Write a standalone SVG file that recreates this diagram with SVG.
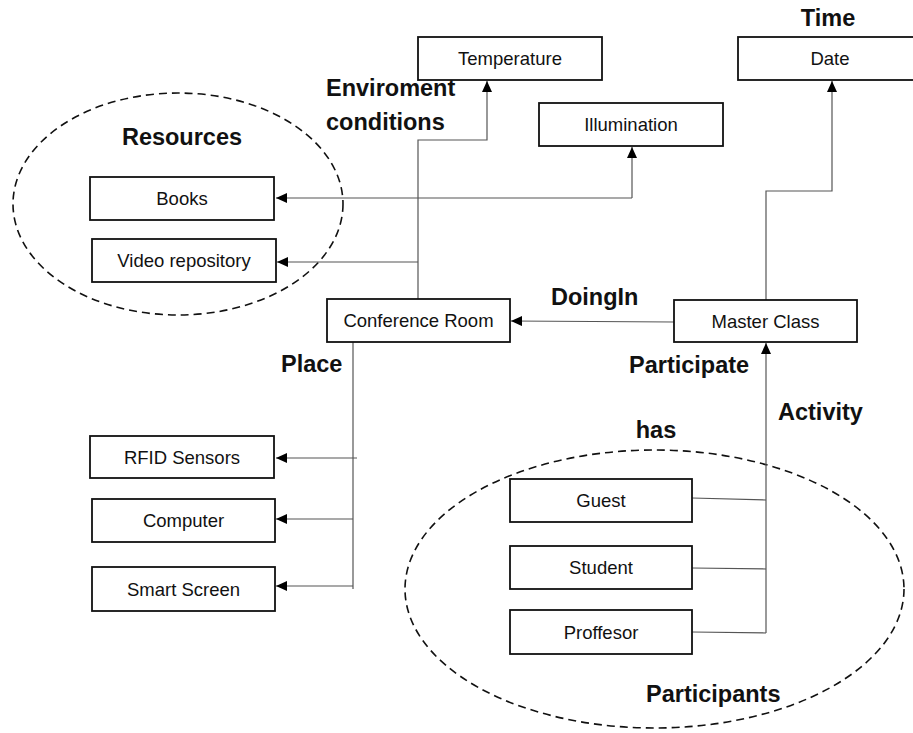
<svg xmlns="http://www.w3.org/2000/svg" width="913" height="733" viewBox="0 0 913 733">
<style>
.box{fill:#fff;stroke:#111;stroke-width:1.8}
.bt{font-family:"Liberation Sans",Arial,sans-serif;font-size:18.5px;fill:#111;text-anchor:middle}
.lb{font-family:"Liberation Sans",Arial,sans-serif;font-size:23.5px;font-weight:bold;fill:#111}
.cn{fill:none;stroke:#555;stroke-width:1.2}
.grp{fill:none;stroke:#111;stroke-width:1.6;stroke-dasharray:8 5}
</style>
<defs>
<marker id="ah" markerUnits="userSpaceOnUse" markerWidth="12" markerHeight="10" refX="11" refY="5" orient="auto">
<path d="M0,0 L11,5 L0,10 Z" fill="#000"/>
</marker>
</defs>
<rect width="913" height="733" fill="#fff"/>
<g id="groups">
<ellipse id="resources-group" class="grp" cx="178" cy="204" rx="165" ry="111"/>
<ellipse id="participants-group" class="grp" cx="654.5" cy="589" rx="249.5" ry="139"/>
</g>
<g id="connectors">
<path class="cn" d="M418,299 V140 H487 V81" marker-end="url(#ah)"/>
<path class="cn" d="M418,262 H277" marker-end="url(#ah)"/>
<path class="cn" d="M632,198 V147" marker-end="url(#ah)"/>
<path class="cn" d="M632,198 H276" marker-end="url(#ah)"/>
<path class="cn" d="M766,300 V191 H832 V81" marker-end="url(#ah)"/>
<path class="cn" d="M674,322 L511,321" marker-end="url(#ah)"/>
<path class="cn" d="M766,633 V343" marker-end="url(#ah)"/>
<path class="cn" d="M692,498 L766,500"/>
<path class="cn" d="M692,568 L766,569"/>
<path class="cn" d="M692,632 L766,633"/>
<path class="cn" d="M353,342 V589"/>
<path class="cn" d="M357,458 H276" marker-end="url(#ah)"/>
<path class="cn" d="M353,519 H276" marker-end="url(#ah)"/>
<path class="cn" d="M353,586 H276" marker-end="url(#ah)"/>
</g>
<g id="temperature"><rect class="box" x="418" y="37" width="184" height="43"/><text class="bt" x="510" y="65">Temperature</text></g>
<g id="date"><rect class="box" x="738" y="37" width="184" height="43"/><text class="bt" x="830" y="65">Date</text></g>
<g id="illumination"><rect class="box" x="539" y="103" width="184" height="43"/><text class="bt" x="631" y="131">Illumination</text></g>
<g id="books"><rect class="box" x="90" y="177" width="184" height="43"/><text class="bt" x="182" y="205">Books</text></g>
<g id="video-repository"><rect class="box" x="92" y="239" width="184" height="43"/><text class="bt" x="184" y="267">Video repository</text></g>
<g id="conference-room"><rect class="box" x="327" y="299" width="183" height="43"/><text class="bt" x="418.5" y="327">Conference Room</text></g>
<g id="master-class"><rect class="box" x="674" y="300" width="183" height="42"/><text class="bt" x="765.5" y="328">Master Class</text></g>
<g id="rfid-sensors"><rect class="box" x="90" y="436" width="184" height="42"/><text class="bt" x="182" y="464">RFID Sensors</text></g>
<g id="computer"><rect class="box" x="92" y="499" width="183" height="43"/><text class="bt" x="183.5" y="527">Computer</text></g>
<g id="smart-screen"><rect class="box" x="92" y="567" width="183" height="44"/><text class="bt" x="183.5" y="596">Smart Screen</text></g>
<g id="guest"><rect class="box" x="510" y="479" width="182" height="43"/><text class="bt" x="601" y="507">Guest</text></g>
<g id="student"><rect class="box" x="510" y="546" width="182" height="43"/><text class="bt" x="601" y="574">Student</text></g>
<g id="proffesor"><rect class="box" x="510" y="610" width="182" height="44"/><text class="bt" x="601" y="639">Proffesor</text></g>
<g id="labels">
<text class="lb" x="828" y="26" text-anchor="middle">Time</text>
<text class="lb" x="326" y="96">Enviroment</text>
<text class="lb" x="326" y="130">conditions</text>
<text class="lb" x="182" y="145" text-anchor="middle">Resources</text>
<text class="lb" x="551" y="305">DoingIn</text>
<text class="lb" x="281" y="372">Place</text>
<text class="lb" x="629" y="373">Participate</text>
<text class="lb" x="778" y="420">Activity</text>
<text class="lb" x="656" y="438" text-anchor="middle">has</text>
<text class="lb" x="646" y="702">Participants</text>
</g>
</svg>
